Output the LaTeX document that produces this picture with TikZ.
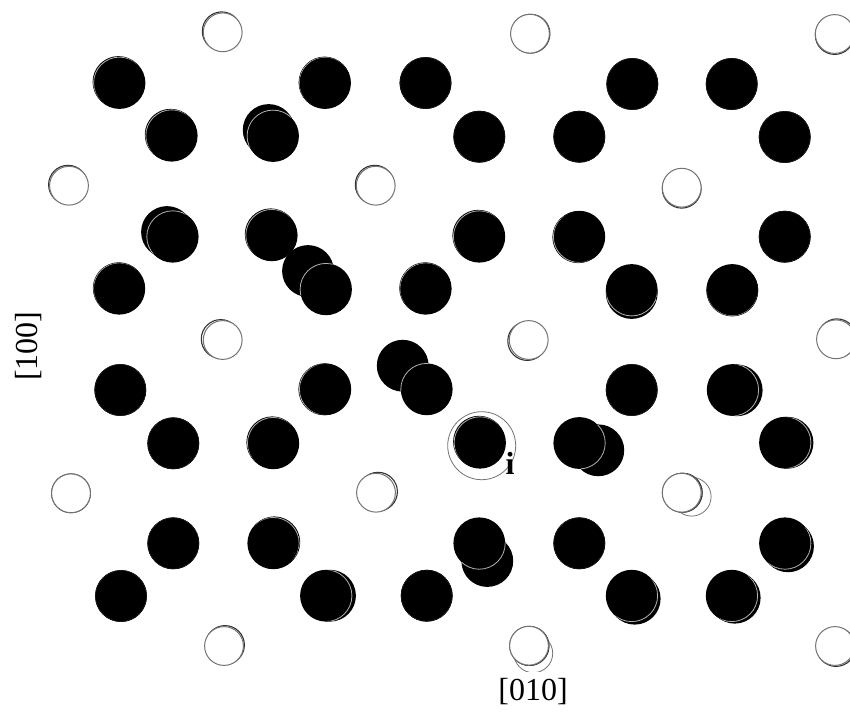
\documentclass[tikz,border=0pt]{standalone}
\usepackage{fontspec}
\setmainfont{Liberation Serif}
\tikzset{
  x=1pt,y=-1pt,
  atom/.style={fill=black},
  seam/.style={draw=black!30,line width=0.8pt},
  backring/.style={fill=white,draw=black!80,line width=1.1pt},
  topring/.style={fill=white,draw=black!55,line width=1pt},
  thinring/.style={draw=black!55,line width=0.8pt},
  axislabel/.style={inner sep=0pt,font=\fontsize{32}{32}\selectfont},
}
\begin{document}
\begin{tikzpicture}
\useasboundingbox (0,0) rectangle (850,713);
\clip (0,0) rectangle (850,713);
% large ring around the marked atom
\draw[thinring] (481.7,445.7) circle[radius=34];
% dark atoms: centre x, centre y, x of the atom behind, y of the atom behind
\foreach \x/\y/\bx/\by in {
  119.5/83/118.5/82, 325/83/324.5/82.5, 425.5/83/425.5/83,
  632.3/84/632.3/84, 731.7/84/731.7/84,
  171.7/135.7/170.7/134.7, 273/136/268.7/130, 479.3/136.7/479.3/136.7,
  579.3/136.7/579.3/136.7, 784.7/137/784.7/137,
  172.7/236.7/167/232, 271.7/235.3/270.7/234.3, 479.3/236.7/478.3/235.7,
  579.3/236.7/578.3/237.2, 784.7/236.7/784.7/236.7,
  119.3/288.7/118.8/288.2, 326/289.3/308/271, 425.7/288.7/425.2/288.2,
  631.7/290/631.7/293, 732.3/290/732.3/290.5,
  120.3/390/120.3/390, 325.3/389.3/324.3/389.3, 426.7/389.3/402.7/365.7,
  631.7/390/631.7/390, 732.7/390/736.7/390.3,
  173.3/443.3/173.3/443.3, 273.3/443.3/272.3/442.3, 480/442.7/479/441.7,
  579.3/443/598.3/450.3, 785/442.7/787.5/442.7,
  173.3/543.3/173.3/543.3, 273.3/543.3/274.3/542.3, 479.3/543.3/487.3/561,
  579.3/543.3/579.3/543.3, 785/543.3/788/546.3,
  121/596/121/596, 326/595.7/330/595.7, 426.7/595.7/426.7/595.7,
  631.7/595.7/634.7/598.7, 731.7/595.7/734.7/597.7}
{
  \fill[atom] (\bx,\by) circle[radius=25.9];
  \fill[atom] (\x,\y) circle[radius=25.9];
  \begin{scope}
    \clip (\bx,\by) circle[radius=25.4];
    \draw[seam] (\x,\y) circle[radius=25.9];
  \end{scope}
}
% open atoms
\foreach \x/\y/\bx/\by in {
  222.7/32.3/221.7/31.3, 530/33.7/530.5/33.7, 834.7/34/834.7/35,
  69/185.7/68/184.7, 375.7/185.7/374.7/184.7, 681.7/187.7/681.7/188.7,
  222.7/340/220.7/339, 528.7/340/527.2/341, 836/339.3/837/338.3,
  71/493.3/71/493.3, 376/492.7/378/491.7, 681.7/492.7/682.7/492.7,
  224/646/225/645, 529/645.7/529.5/646, 835/646/836/647}
{
  \draw[backring] (\bx,\by) circle[radius=19.4];
  \draw[topring] (\x,\y) circle[radius=19.4];
}
% rings displaced further
\draw[thinring] (691.7,496.7) circle[radius=19.4];
\draw[backring] (682.7,492.7) circle[radius=19.4];
\draw[topring] (681.7,492.7) circle[radius=19.4];
\draw[thinring] (533.3,653.3) circle[radius=19.4];
\draw[backring] (529.5,646) circle[radius=19.4];
\draw[topring] (529,645.7) circle[radius=19.4];
\fill[white] (515,671.5) rectangle (555,680);
% labels
\node[inner sep=0pt,font=\fontsize{32}{32}\selectfont\bfseries] (mark) at (510,463) {i};
\node[axislabel] (axisx) at (533,692) {[010]};
\node[axislabel,rotate=90] (axisy) at (29,346) {[100]};
\end{tikzpicture}
\end{document}
